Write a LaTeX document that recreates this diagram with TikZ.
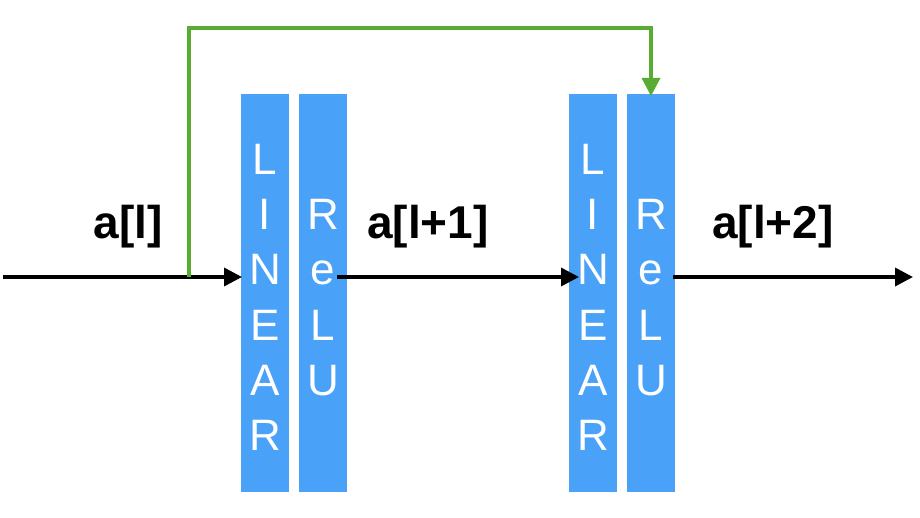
\documentclass[tikz,border=0pt]{standalone}
\usepackage{fontspec}
\setmainfont{Liberation Sans}
\usetikzlibrary{arrows.meta}
\definecolor{boxblue}{RGB}{73,162,248}
\definecolor{skipgreen}{RGB}{88,172,52}
\tikzset{
  layer/.style={fill=boxblue, draw=none, minimum width=48pt, minimum height=398pt, inner sep=0pt, anchor=north west},
  letter/.style={text=white, font=\fontsize{44}{44}\selectfont, anchor=base, inner sep=0pt},
  lbl/.style={font=\bfseries\fontsize{46}{46}\selectfont, anchor=base, inner sep=0pt},
  flow/.style={line width=3.5pt, -{Triangle[length=18pt,width=18pt]}},
  skip/.style={line width=3.5pt, draw=skipgreen, -{Triangle[length=18pt,width=18pt]}}
}
\begin{document}
\begin{tikzpicture}[x=1pt,y=-1pt]
\useasboundingbox (0,0) rectangle (920,518);
\node[layer] (lin1) at (241,94) {};
\node[layer] (relu1) at (299,94) {};
\node[layer] (lin2) at (569,94) {};
\node[layer] (relu2) at (627,94) {};
\foreach \b/\x in {l1/265, l2/593}{
  \foreach \c [count=\i] in {L,I,N,E,A,R}{
    \node[letter] (\b\i) at (\x,{120+55*\i}) {\c};
  }
}
\foreach \b/\x in {r1/323, r2/651}{
  \foreach \c [count=\i] in {R,e,L,U}{
    \node[letter] (\b\i) at (\x,{175+55*\i}) {\c};
  }
}
\node[lbl] (al) at (128,239) {a[l]};
\node[lbl] (al1) at (428,239) {a[l+1]};
\node[lbl] (al2) at (773,239) {a[l+2]};
\coordinate (start) at (3,277);
\coordinate (in1) at (242,277);
\coordinate (out1) at (337,277);
\coordinate (in2) at (579,277);
\coordinate (out2) at (673,277);
\coordinate (end) at (913,277);
\coordinate (branch) at (189,277);
\coordinate (top1) at (189,28);
\coordinate (top2) at (651,28);
\coordinate (tgt) at (651,96);
\draw[flow] (start) -- (in1);
\draw[flow] (out1) -- (in2);
\draw[flow] (out2) -- (end);
\draw[skip] (branch) -- (top1) -- (top2) -- (tgt);
\end{tikzpicture}
\end{document}
